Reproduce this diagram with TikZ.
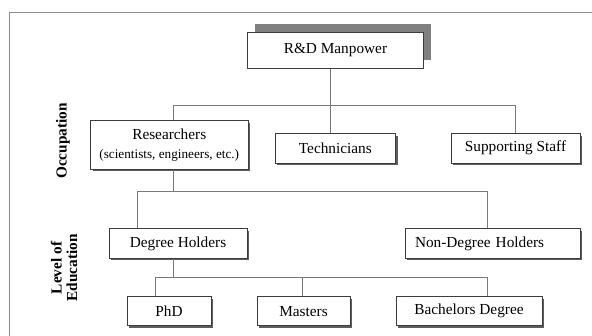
\documentclass[tikz,border=0pt]{standalone}
\usepackage{fontspec}
\setmainfont{Liberation Serif}
\usetikzlibrary{shadows}
\definecolor{boxc}{HTML}{3C3C3C}
\definecolor{connc}{HTML}{7A7A7A}
\definecolor{framec}{HTML}{8C8C8C}
\definecolor{shadc}{HTML}{5E5E5E}
\definecolor{bigshadc}{HTML}{808080}
\begin{document}
\begin{tikzpicture}[x=1pt,y=-1pt,
  basebox/.style={draw=boxc, line width=0.8pt, fill=white, inner sep=0pt,
    font=\fontsize{15.3}{18}\selectfont},
  orgbox/.style={basebox, drop shadow={shadow xshift=2.2pt, shadow yshift=-2.2pt, fill=shadc, opacity=1}},
  rootbox/.style={basebox, drop shadow={shadow xshift=7.5pt, shadow yshift=8pt, fill=bigshadc, opacity=1}},
  conn/.style={draw=connc, line width=0.9pt},
  lbl/.style={font=\bfseries\fontsize{15.3}{15.5}\selectfont, rotate=90, align=center, inner sep=0pt}]
\useasboundingbox[fill=white] (0,0) rectangle (592,336);
\draw[draw=framec, line width=1pt] (9,336) -- (9,12.7) -- (592,12.7);

% boxes
\node[rootbox, minimum width=176pt, minimum height=36pt] (rd) at (335.5,50.5) {R\&D Manpower};
\node[orgbox, minimum width=157.5pt, minimum height=48.6pt, align=center,
  font=\fontsize{15.3}{19.7}\selectfont] (res) at (169.25,145)
  {Researchers\\{\fontsize{13.2}{19.7}\selectfont (scientists, engineers, etc.)}};
\node[orgbox, minimum width=120.7pt, minimum height=29.5pt] (tech) at (335.35,148.25) {Technicians};
\node[orgbox, minimum width=129pt, minimum height=29.5pt] (sup) at (515.5,148.25) {Supporting Staff};
\node[orgbox, minimum width=138pt, minimum height=29.8pt] (deg) at (178,243.4) {Degree Holders};
\node[orgbox, minimum width=175pt, minimum height=29.8pt, text width=155pt, align=left, inner xsep=10pt] (ndeg) at (492.5,243.4) {Non-Degree Holders};
\node[orgbox, minimum width=84pt, minimum height=28.8pt] (phd) at (169,311.1) {PhD};
\node[orgbox, minimum width=93pt, minimum height=28.8pt] (mas) at (303.5,311.1) {Masters};
\node[orgbox, minimum width=146pt, minimum height=28.8pt] (bach) at (469,311.1) {Bachelors Degree};

% side labels
\node[lbl] (occ) at (63,141) {Occupation};
\node[lbl] (loe) at (64,268) {Level of\\Education};

% junctions
\coordinate (c1) at (330.5,105);
\coordinate (c1l) at (173.5,105);
\coordinate (c1r) at (515.7,105);
\coordinate (c2) at (173.5,191.7);
\coordinate (c2l) at (137,191.7);
\coordinate (c2r) at (487.7,191.7);
\coordinate (c3) at (173.5,277.5);
\coordinate (c3l) at (155.3,277.5);
\coordinate (c3m) at (302.5,277.5);
\coordinate (c3r) at (487.7,277.5);

% connectors
\draw[conn] (rd.south -| c1) -- (c1);
\draw[conn] (res.north -| c1l) -- (c1l) -- (c1r) -- (sup.north -| c1r);
\draw[conn] (c1) -- (tech.north -| c1);
\draw[conn] (res.south -| c2) -- (c2);
\draw[conn] (deg.north -| c2l) -- (c2l) -- (c2r) -- (ndeg.north -| c2r);
\draw[conn] (deg.south -| c3) -- (c3);
\draw[conn] (phd.north -| c3l) -- (c3l) -- (c3r) -- (bach.north -| c3r);
\draw[conn] (c3m) -- (mas.north -| c3m);
\end{tikzpicture}
\end{document}
